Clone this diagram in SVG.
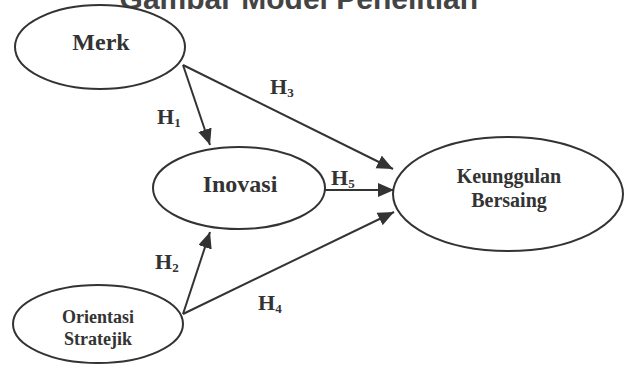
<svg xmlns="http://www.w3.org/2000/svg" width="629" height="367" viewBox="0 0 629 367">
<style>
.node{fill:#fff;stroke:#333;stroke-width:2}
.lbl{font-family:"Liberation Serif","Times New Roman",serif;font-weight:bold;fill:#333;text-anchor:middle}
.h{font-family:"Liberation Serif","Times New Roman",serif;font-weight:bold;fill:#333;font-size:22px}
.sub{font-size:13px}
.edge{stroke:#333;stroke-width:2;fill:none;marker-end:url(#arr)}
.title{font-family:"Liberation Sans",Arial,sans-serif;font-weight:bold;font-size:30px;fill:#444;text-anchor:end}
</style>
<defs>
<marker id="arr" markerUnits="userSpaceOnUse" markerWidth="17" markerHeight="15" refX="16" refY="7" orient="auto">
<path d="M0,0 L16,7 L0,14 z" fill="#333"/>
</marker>
</defs>
<rect width="629" height="367" fill="#fff"/>
<text class="title" x="478" y="9">Gambar Model Penelitian</text>
<g id="connectors">
<line class="edge" x1="183" y1="65" x2="210" y2="145"/>
<line class="edge" x1="183" y1="65" x2="393" y2="169"/>
<line class="edge" x1="325" y1="190" x2="394" y2="190"/>
<line class="edge" x1="183" y1="314" x2="210" y2="232"/>
<line class="edge" x1="183" y1="314" x2="394" y2="212"/>
<text class="h" x="157" y="124">H<tspan class="sub" dy="3">1</tspan></text>
<text class="h" x="270" y="94">H<tspan class="sub" dy="3">3</tspan></text>
<text class="h" x="331" y="185">H<tspan class="sub" dy="3">5</tspan></text>
<text class="h" x="155" y="269">H<tspan class="sub" dy="3">2</tspan></text>
<text class="h" x="258" y="310">H<tspan class="sub" dy="3">4</tspan></text>
</g>
<g id="merk">
<ellipse class="node" cx="100" cy="47" rx="85" ry="42"/>
<text class="lbl" x="101" y="50" font-size="24">Merk</text>
</g>
<g id="inovasi">
<ellipse class="node" cx="239" cy="188" rx="86" ry="41"/>
<text class="lbl" x="240" y="192" font-size="24">Inovasi</text>
</g>
<g id="orientasi">
<ellipse class="node" cx="98" cy="324" rx="85" ry="39"/>
<text class="lbl" x="98" y="323" font-size="18">Orientasi</text>
<text class="lbl" x="98" y="345" font-size="18">Stratejik</text>
</g>
<g id="keunggulan">
<ellipse class="node" cx="508" cy="194" rx="115" ry="57"/>
<text class="lbl" x="509" y="183" font-size="20" fill="#444">Keunggulan</text>
<text class="lbl" x="509" y="207" font-size="20" fill="#444">Bersaing</text>
</g>
</svg>
